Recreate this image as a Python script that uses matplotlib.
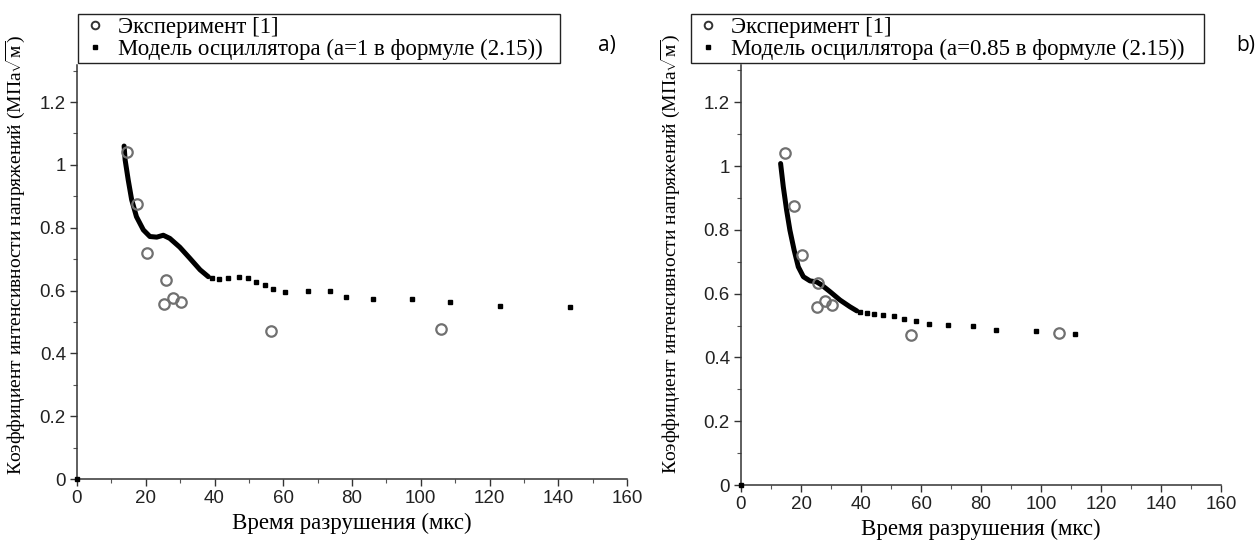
import matplotlib
matplotlib.use("Agg")
import matplotlib.pyplot as plt
from matplotlib.lines import Line2D
from matplotlib.ticker import MultipleLocator, FuncFormatter

plt.rcParams['mathtext.fontset'] = 'custom'
plt.rcParams['mathtext.rm'] = 'Liberation Serif'

# Эксперимент [1] (одинаковые точки на обоих графиках)
exp_t = [14.5, 17.5, 20.3, 25.3, 25.8, 28.0, 30.3, 56.5, 106.0]
exp_k = [1.04, 0.875, 0.72, 0.557, 0.632, 0.576, 0.565, 0.47, 0.476]

# Модель осциллятора, a=1 : плотная часть (линия) и редкие точки
a_line_t = [13.7, 14.0, 14.9, 15.9, 17.3, 19.3, 21.2, 23.2, 25.1, 27.0, 29.9, 32.8, 35.8, 38.2]
a_line_k = [1.06, 1.016, 0.952, 0.889, 0.835, 0.793, 0.772, 0.770, 0.776, 0.766, 0.738, 0.703, 0.666, 0.644]
a_dots_t = [0, 39.2, 41.4, 44.0, 47.1, 49.8, 52.2, 54.7, 57.1, 60.4, 67.1, 73.5, 78.2, 86.1, 97.4, 108.6, 123.0, 143.5]
a_dots_k = [0, 0.639, 0.636, 0.639, 0.642, 0.639, 0.628, 0.618, 0.605, 0.594, 0.600, 0.597, 0.581, 0.573, 0.572, 0.563, 0.552, 0.547]

# Модель осциллятора, a=0.85
b_line_t = [13.2, 14.1, 15.2, 16.3, 17.7, 19.1, 20.8, 23.0, 25.2, 26.9, 29.7, 33.0, 36.3, 38.6]
b_line_k = [1.008, 0.935, 0.862, 0.799, 0.737, 0.684, 0.653, 0.640, 0.637, 0.627, 0.606, 0.580, 0.559, 0.546]
b_dots_t = [0, 39.7, 41.9, 44.3, 47.4, 51.0, 54.4, 58.3, 62.6, 69.0, 77.3, 85.0, 98.3, 111.3]
b_dots_k = [0, 0.543, 0.538, 0.535, 0.534, 0.530, 0.522, 0.514, 0.504, 0.502, 0.499, 0.486, 0.483, 0.472]

xlabel = "Время разрушения (мкс)"
ylabel = r"Коэффициент интенсивности напряжений (МПа$\sqrt{\mathrm{м}}$)"
exp_label = "Эксперимент [1]"
model_labels = ["Модель осциллятора (а=1 в формуле (2.15))",
                "Модель осциллятора (а=0.85 в формуле (2.15))"]

W, H = 1259, 542
fig = plt.figure(figsize=(W / 100, H / 100), dpi=100)

def px_axes(x0, x1, y_bottom, y_top):
    return fig.add_axes([x0 / W, 1 - y_bottom / H, (x1 - x0) / W, (y_bottom - y_top) / H])

def fmt(v, pos):
    return "%g" % round(v, 2)

def style(ax, ytop, label_x, label_y):
    ax.set_xlim(0, 160)
    ax.set_ylim(0, ytop)
    for s in ['top', 'right']:
        ax.spines[s].set_visible(False)
    for s in ['left', 'bottom']:
        ax.spines[s].set_linewidth(1.1)
        ax.spines[s].set_color('#333333')
    ax.xaxis.set_major_locator(MultipleLocator(20))
    ax.xaxis.set_minor_locator(MultipleLocator(10))
    ax.yaxis.set_major_locator(MultipleLocator(0.2))
    ax.yaxis.set_minor_locator(MultipleLocator(0.1))
    ax.yaxis.set_major_formatter(FuncFormatter(fmt))
    ax.tick_params(which='major', direction='out', length=5, width=1, color='#333333',
                   labelsize=13.5, labelcolor='#222222', pad=3)
    ax.tick_params(which='minor', direction='out', length=3, width=0.8, color='#555555')
    for lab in ax.get_xticklabels() + ax.get_yticklabels():
        lab.set_fontfamily('Liberation Sans')
    ax.set_xlabel(xlabel, family='Liberation Serif', fontsize=16.5, labelpad=4)
    ax.set_ylabel(ylabel, family='Liberation Serif', fontsize=14)
    ax.yaxis.set_label_coords(label_x, label_y)

panels = [
    (px_axes(77, 627, 479, 65), 1.318, -0.091, 0.54, a_line_t, a_line_k, a_dots_t, a_dots_k,
     model_labels[0], (78, 560), 598, "a)"),
    (px_axes(741, 1221, 485, 65), 1.317, -0.122, 0.55, b_line_t, b_line_k, b_dots_t, b_dots_k,
     model_labels[1], (691, 1204), 1236, "b)"),
]

for ax, ytop, lx, ly, lt, lk, dt, dk, mlab, (bx0, bx1), tag_x, tag in panels:
    style(ax, ytop, lx, ly)
    ax.plot(lt, lk, color='black', lw=3.6, solid_capstyle='round', zorder=3)
    ax.plot(dt, dk, ls='none', marker='s', ms=3.2, color='black', zorder=4, clip_on=False)
    ax.plot(exp_t, exp_k, ls='none', marker='o', ms=7.5, mfc='none', mec='#707070', mew=1.6, zorder=5)
    handles = [
        Line2D([], [], ls='none', marker='o', ms=5.5, mfc='none', mec='#333333', mew=1.4),
        Line2D([], [], ls='none', marker='s', ms=2.8, color='black'),
    ]
    fig.legend(handles, [exp_label, mlab], loc='upper left', mode='expand',
               bbox_to_anchor=(bx0 / W, 1 - 72 / H, (bx1 - bx0) / W, 58 / H),
               frameon=True, fancybox=False,
               edgecolor='#222222', framealpha=1, prop={'family': 'Liberation Serif', 'size': 16.5},
               borderpad=0.15, labelspacing=0.0, handletextpad=0.4, handlelength=1.2,
               borderaxespad=0)
    fig.text(tag_x / W, 1 - 45 / H, tag, family='Open Sans', fontsize=15, va='center', ha='left')

fig.savefig("out.png", dpi=100, facecolor='white')
